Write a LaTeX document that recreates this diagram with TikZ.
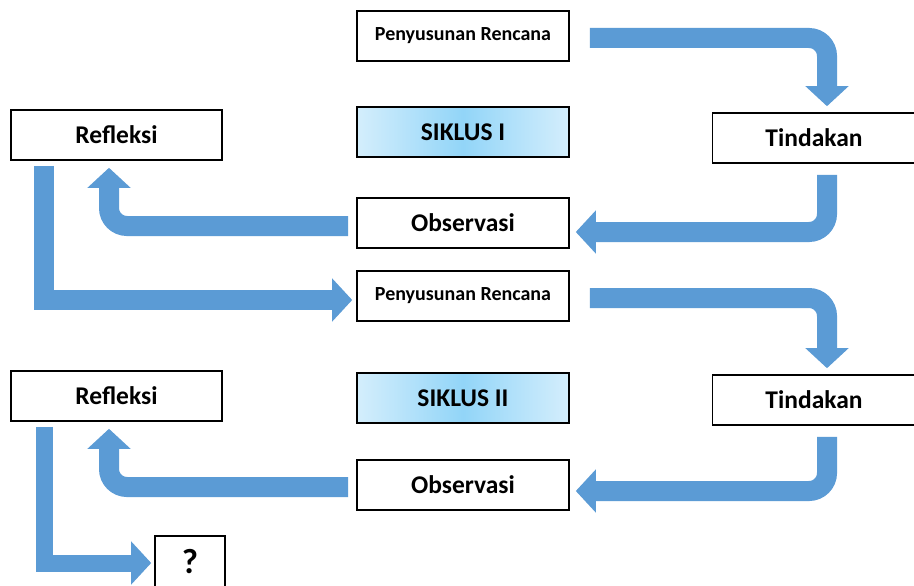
\documentclass[tikz,border=0pt]{standalone}
\usepackage{fontspec}
\setmainfont{Carlito}
\usetikzlibrary{arrows.meta}
\definecolor{flowblue}{HTML}{5B9BD5}
\definecolor{sikedge}{HTML}{D4EEFC}
\definecolor{sikmid}{HTML}{92D5F8}

\begin{document}
\begin{tikzpicture}[x=1pt, y=-1pt,
    stepbox/.style={draw=black, line width=1.6pt, fill=white, minimum width=212pt, minimum height=50pt,
        inner sep=0pt, font=\fontsize{25.5}{28}\selectfont\bfseries},
    planbox/.style={stepbox, font=\fontsize{20}{24}\selectfont\bfseries},
    cyclebox/.style={stepbox, left color=sikedge, right color=sikedge, middle color=sikmid},
    flow/.style={draw=flowblue, line width=20pt, rounded corners=18pt,
        -{Triangle[width=42pt, length=20pt]}, flowblue},
    flowsharp/.style={flow, sharp corners}]
\clip (0,0) rectangle (914,586);
\fill[white] (0,0) rectangle (914,586);

% cycle I
\node[planbox] (pr1) at (463,36) {Penyusunan Rencana};
\node[cyclebox] (sik1) at (463,132) {SIKLUS I};
\node[stepbox, minimum width=211pt] (ref1) at (116.5,135) {Refleksi};
\node[stepbox, minimum width=203pt] (tin1) at (814,138) {Tindakan};
\node[stepbox] (obs1) at (463,223) {Observasi};

% cycle II
\node[planbox] (pr2) at (463,296) {Penyusunan Rencana};
\node[cyclebox] (sik2) at (463,398) {SIKLUS II};
\node[stepbox, minimum width=211pt] (ref2) at (116.5,396) {Refleksi};
\node[stepbox, minimum width=203pt] (tin2) at (814,400) {Tindakan};
\node[stepbox] (obs2) at (463,485) {Observasi};

\node[stepbox, minimum width=70pt, minimum height=52pt, font=\fontsize{35}{36}\selectfont\bfseries] (next) at (190,562) {?};

% arrows of cycle I
\draw[flow] ([xshift=20pt, yshift=-2pt]pr1.east) -| ([xshift=13pt, yshift=6pt]tin1.north);
\draw[flow] ([xshift=13pt, yshift=-11pt]tin1.south) |- ([xshift=6pt, yshift=-9pt]obs1.east);
\draw[flow] ([xshift=-8pt, yshift=-3pt]obs1.west) -| ([xshift=-7.5pt, yshift=-7pt]ref1.south);
\draw[flowsharp] ([xshift=-72.5pt, yshift=-5pt]ref1.south) |- ([xshift=-4pt, yshift=-4pt]pr2.west);

% arrows of cycle II
\draw[flow] ([xshift=20pt, yshift=-2pt]pr2.east) -| ([xshift=13pt, yshift=6pt]tin2.north);
\draw[flow] ([xshift=13pt, yshift=-11pt]tin2.south) |- ([xshift=6pt, yshift=-6pt]obs2.east);
\draw[flow] ([xshift=-8pt, yshift=-2pt]obs2.west) -| ([xshift=-7.5pt, yshift=-7pt]ref2.south);
\draw[flowsharp, line width=17pt] ([xshift=-72.5pt, yshift=-5pt]ref2.south) |- ([xshift=-3pt, yshift=-1pt]next.west);
\end{tikzpicture}
\end{document}
